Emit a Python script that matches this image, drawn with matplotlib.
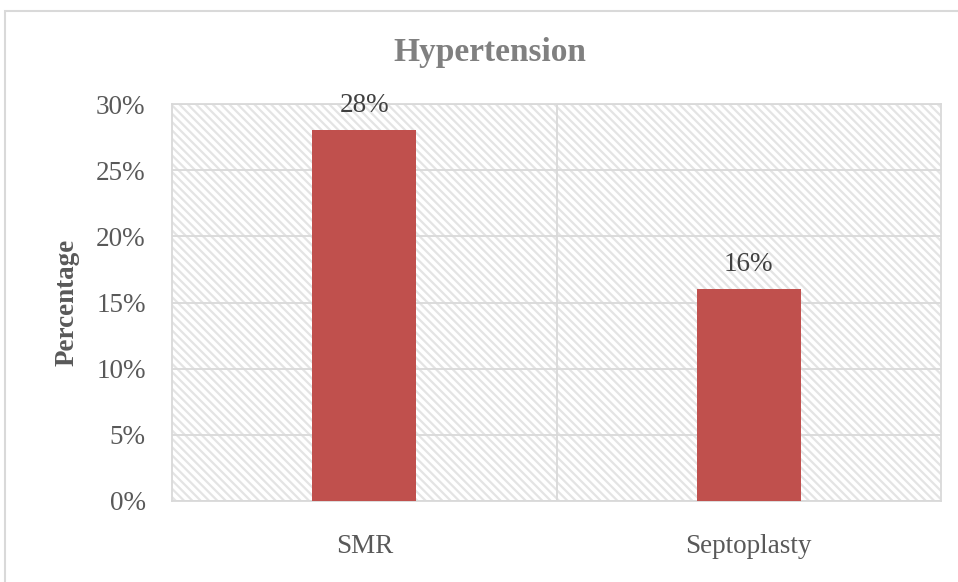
import numpy as np
import matplotlib.pyplot as plt
from matplotlib.patches import Rectangle

categories = ['SMR', 'Septoplasty']
values = [28, 16]
yticks = [0, 5, 10, 15, 20, 25, 30]

plt.rcParams['font.family'] = ['Liberation Serif', 'DejaVu Serif']
plt.rcParams['hatch.linewidth'] = 1.6
grey = '#d9d9d9'
txt = '#595959'
fs = 19.5

fig = plt.figure(figsize=(9.58, 5.82), dpi=100)
ax = fig.add_axes([172 / 958, 1 - 501 / 582, (941 - 172) / 958, (501 - 104) / 582])

# outer chart border (only left/top visible in the picture)
fig.patches.append(Rectangle((5 / 958, -0.1), 1.2, 1 - 11 / 582 + 0.1, transform=fig.transFigure,
                             fill=False, edgecolor=grey, lw=1.5))

# hatched plot area
ax.add_patch(Rectangle((0, 0), 1, 1, transform=ax.transAxes, facecolor='white',
                       edgecolor='#e4e4e4', lw=0, hatch='\\\\\\\\', zorder=0))

x = np.arange(len(categories))
bars = ax.bar(x, values, width=0.27, color='#c0504d', zorder=3)
for b, v in zip(bars, values):
    ax.annotate(f'{v}%', (b.get_x() + b.get_width() / 2, v), xytext=(0, 9),
                textcoords='offset points', ha='center', va='bottom', fontsize=fs, color='#404040',
                zorder=4)

ax.set_xlim(-0.5, 1.5)
ax.set_ylim(0, 30)
ax.set_yticks(yticks)
ax.set_yticklabels([f'{t}%' for t in yticks], fontsize=fs, color=txt)
ax.set_xticks(x)
ax.set_xticklabels(categories, fontsize=fs, color=txt)
ax.tick_params(axis='both', length=0)
ax.tick_params(axis='y', pad=19)
ax.tick_params(axis='x', pad=24)
ax.grid(axis='y', color=grey, lw=1.3, zorder=1)
ax.axvline(0.5, color=grey, lw=1.3, zorder=1)
for s in ax.spines.values():
    s.set_color(grey)
    s.set_linewidth(1.3)

ax.set_ylabel('Percentage', fontsize=fs, fontweight='bold', color=txt, labelpad=12)
fig.text(490 / 958, 1 - 52 / 582, 'Hypertension', ha='center', va='center', fontsize=24,
         fontweight='bold', color='#808080')

fig.savefig('out.png', dpi=100)
